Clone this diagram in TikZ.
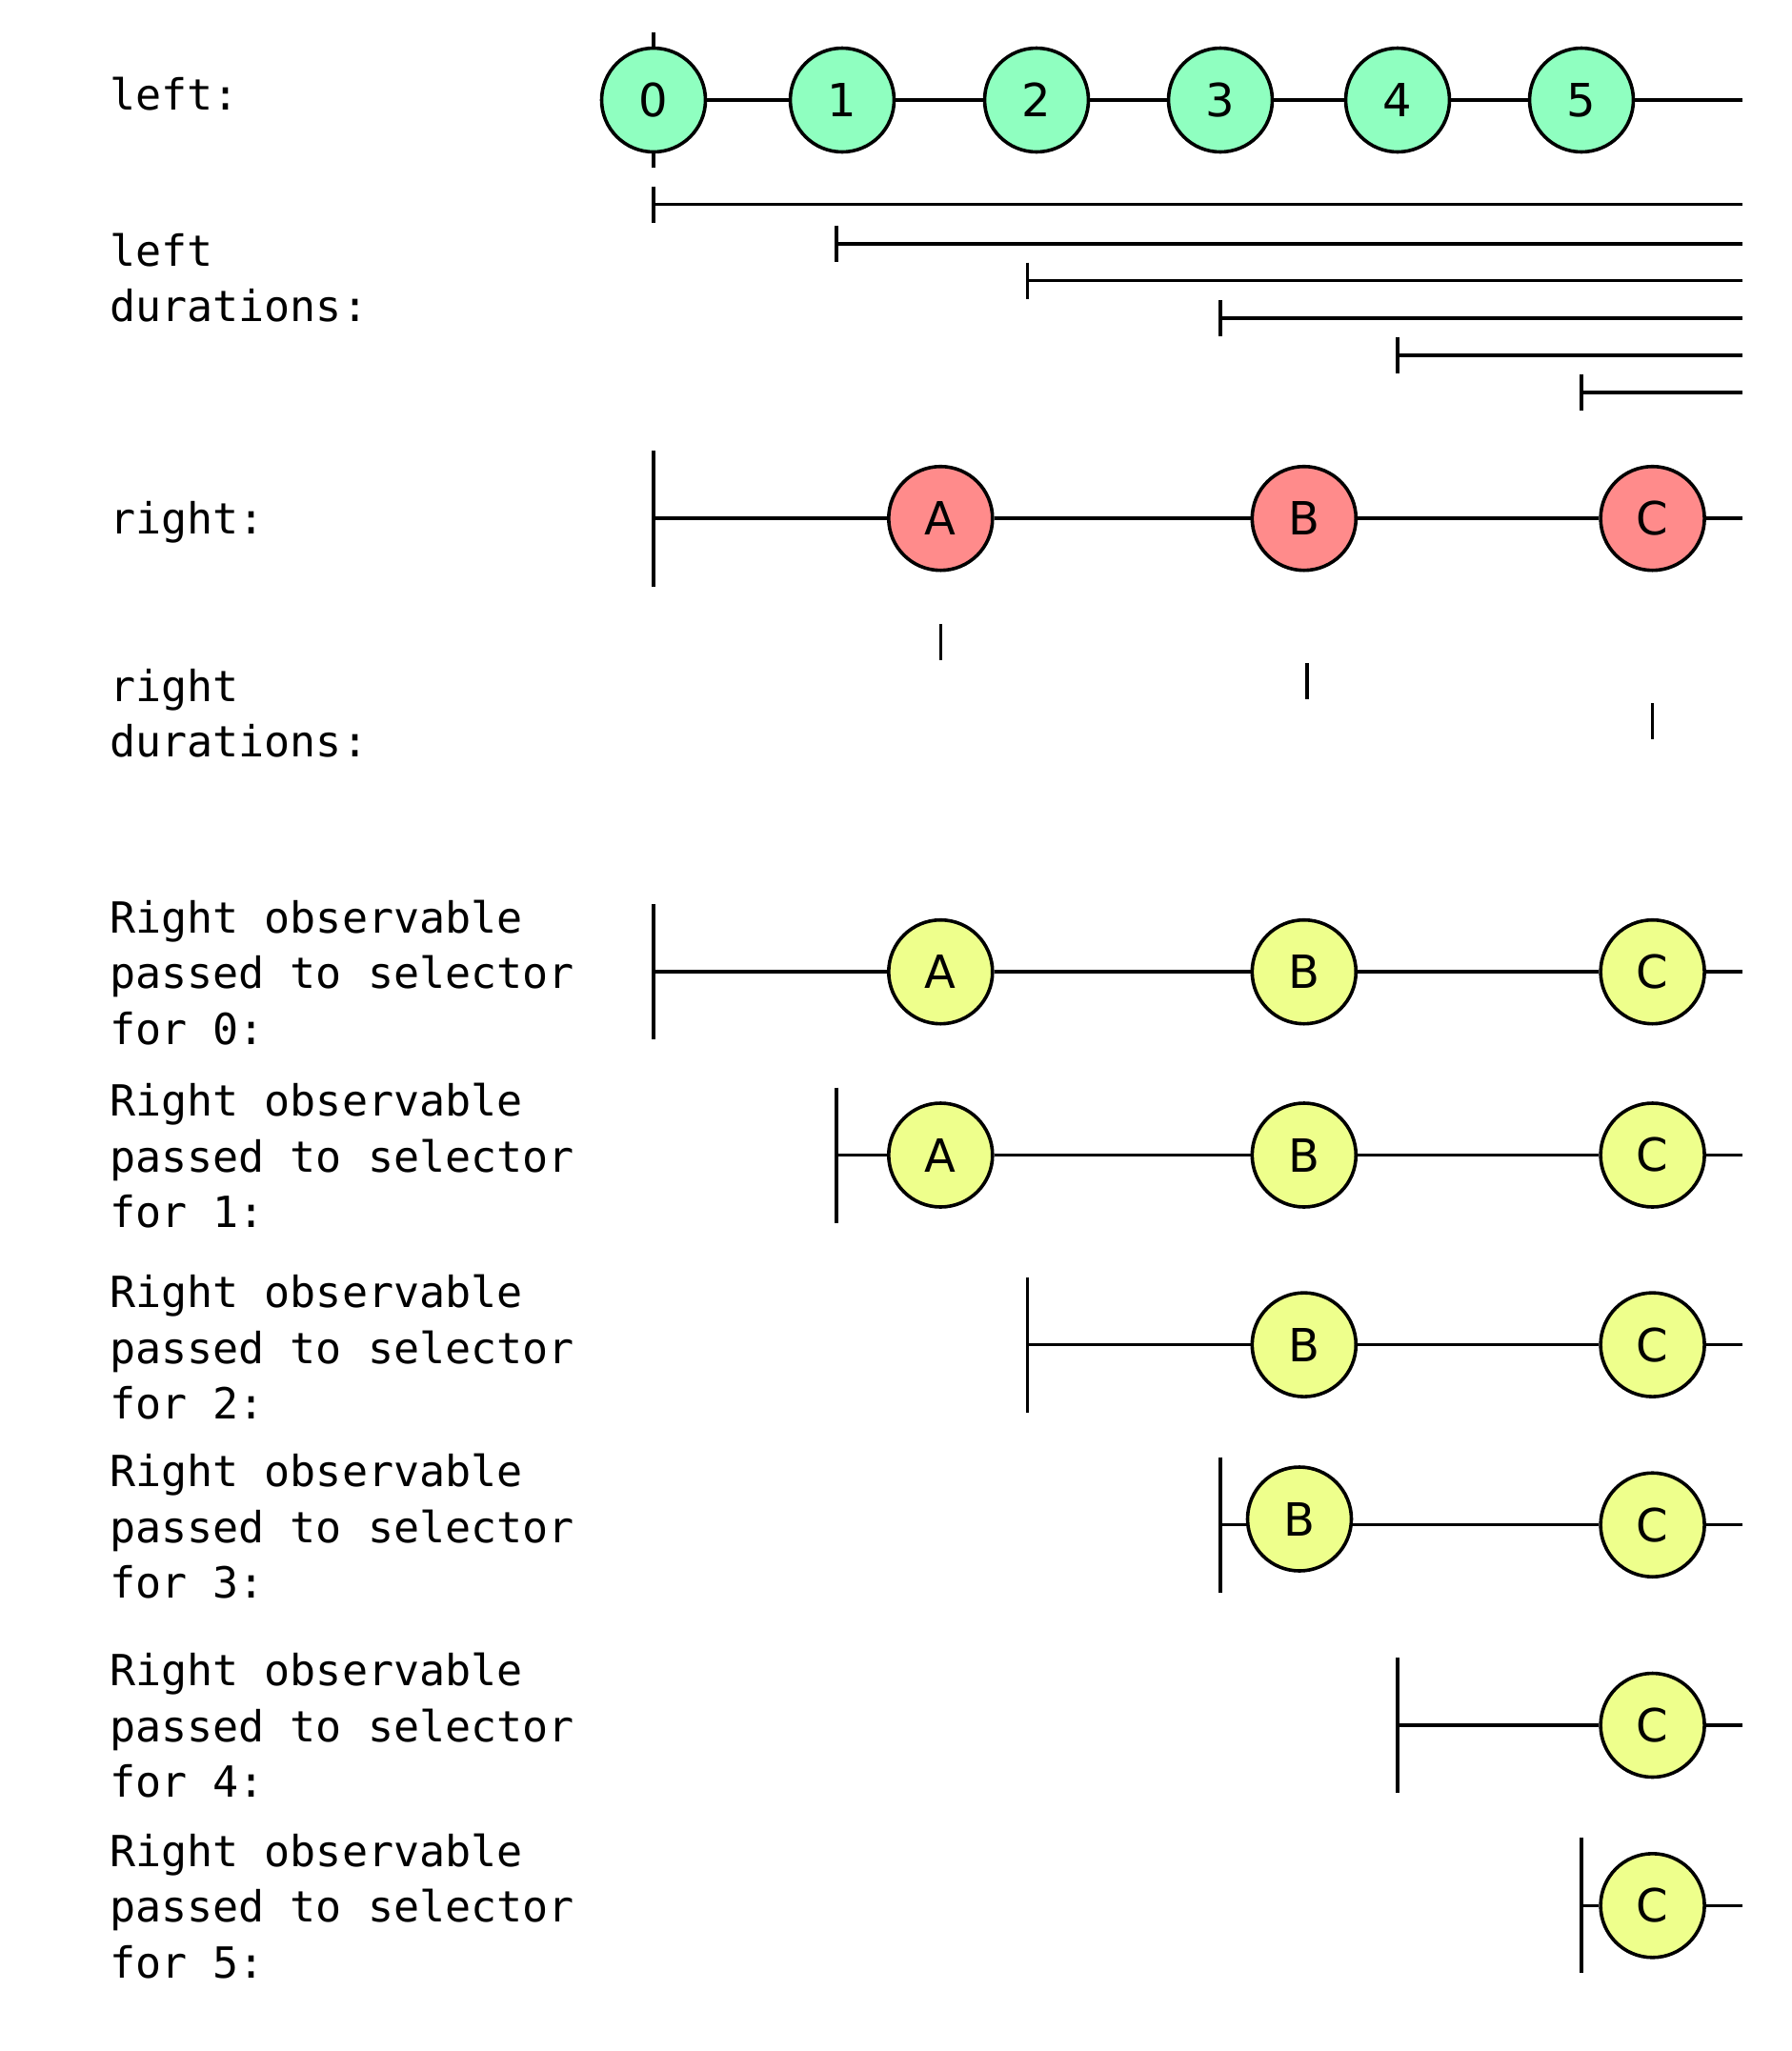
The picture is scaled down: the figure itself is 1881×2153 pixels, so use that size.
\documentclass[tikz,border=0pt]{standalone}
\usepackage{fontspec}
\setmainfont{DejaVu Sans}
\newfontfamily\monofont{DejaVu Sans Mono}
\definecolor{lgreen}{RGB}{143,255,192}
\definecolor{lred}{RGB}{255,139,139}
\definecolor{lyellow}{RGB}{238,255,140}
\begin{document}
\begin{tikzpicture}[x=1pt,y=-1pt,
  lbl/.style={anchor=north west, inner sep=0pt, align=left, font=\monofont\fontsize{45}{58.5}\selectfont},
  marble/.style={circle, draw=black, line width=3.6pt, minimum size=109pt, inner sep=0pt, font=\fontsize{48}{52}\selectfont},
  gm/.style={marble, fill=lgreen},
  rm/.style={marble, fill=lred},
  ym/.style={marble, fill=lyellow},
  tl/.style={draw=black, line width=3.5pt}]
\useasboundingbox[fill=white] (0,0) rectangle (1881,2153);

% labels
\node[lbl] (Lleft) at (115,80.8) {left:};
\node[lbl] (Lleftd) at (115,244.8) {left\\durations:};
\node[lbl] (Lright) at (115,525.8) {right:};
\node[lbl] (Lrightd) at (115,701.8) {right\\durations:};
\node[lbl] (Lg0) at (115,944.8) {Right observable\\passed to selector\\for 0:};
\node[lbl] (Lg1) at (115,1137.2) {Right observable\\passed to selector\\for 1:};
\node[lbl] (Lg2) at (115,1338.1) {Right observable\\passed to selector\\for 2:};
\node[lbl] (Lg3) at (115,1526.3) {Right observable\\passed to selector\\for 3:};
\node[lbl] (Lg4) at (115,1735.2) {Right observable\\passed to selector\\for 4:};
\node[lbl] (Lg5) at (115,1924.4) {Right observable\\passed to selector\\for 5:};

% left row
\draw[tl] (686,34) -- (686,176);
\node[gm] (l0) at (686,105) {0};
\node[gm] (l1) at (884,105) {1};
\node[gm] (l2) at (1088,105) {2};
\node[gm] (l3) at (1281,105) {3};
\node[gm] (l4) at (1467,105) {4};
\node[gm] (l5) at (1660,105) {5};
\coordinate (le) at (1829,105);
\draw[tl] (l0) -- (l1);
\draw[tl] (l1) -- (l2);
\draw[tl] (l2) -- (l3);
\draw[tl] (l3) -- (l4);
\draw[tl] (l4) -- (l5);
\draw[tl] (l5) -- (le);

% left durations
\foreach \x/\y in {686/214.7, 878/255.8, 1078.5/294.6, 1281/333.9, 1467/373.2, 1660/412}{
  \draw[tl] (\x,\y-19) -- (\x,\y+19) (\x,\y) -- (1829,\y);
}

% right row
\coordinate (rs) at (686,544.2);
\coordinate (re) at (1829,544.2);
\draw[tl] (686,473) -- (686,616);
\node[rm] (rA) at (987.3,544.2) {A};
\node[rm] (rB) at (1368.8,544.2) {B};
\node[rm] (rC) at (1734.6,544.2) {C};
\draw[tl] (rs) -- (rA);
\draw[tl] (rA) -- (rB);
\draw[tl] (rB) -- (rC);
\draw[tl] (rC) -- (re);

% right durations
\draw[tl] (987.3,655) -- (987.3,693);
\draw[tl] (1372,696) -- (1372,734);
\draw[tl] (1734.6,738) -- (1734.6,776);

% group 0
\coordinate (g0s) at (686,1020.2);
\coordinate (g0e) at (1829,1020.2);
\draw[tl] (686,949.2) -- (686,1091.2);
\node[ym] (g0A) at (987.3,1020.2) {A};
\node[ym] (g0B) at (1368.8,1020.2) {B};
\node[ym] (g0C) at (1734.6,1020.2) {C};
\draw[tl] (g0s) -- (g0A);
\draw[tl] (g0A) -- (g0B);
\draw[tl] (g0B) -- (g0C);
\draw[tl] (g0C) -- (g0e);

% group 1
\coordinate (g1s) at (878,1212.5);
\coordinate (g1e) at (1829,1212.5);
\draw[tl] (878,1141.5) -- (878,1283.5);
\node[ym] (g1A) at (987.3,1212.5) {A};
\node[ym] (g1B) at (1368.8,1212.5) {B};
\node[ym] (g1C) at (1734.6,1212.5) {C};
\draw[tl] (g1s) -- (g1A);
\draw[tl] (g1A) -- (g1B);
\draw[tl] (g1B) -- (g1C);
\draw[tl] (g1C) -- (g1e);

% group 2
\coordinate (g2s) at (1078.5,1411.6);
\coordinate (g2e) at (1829,1411.6);
\draw[tl] (1078.5,1340.6) -- (1078.5,1482.6);
\node[ym] (g2B) at (1368.8,1411.6) {B};
\node[ym] (g2C) at (1734.6,1411.6) {C};
\draw[tl] (g2s) -- (g2B);
\draw[tl] (g2B) -- (g2C);
\draw[tl] (g2C) -- (g2e);

% group 3
\coordinate (g3s) at (1281,1600.7);
\coordinate (g3e) at (1829,1600.7);
\draw[tl] (1281,1529.7) -- (1281,1671.7);
\node[ym] (g3B) at (1364,1594.5) {B};
\node[ym] (g3C) at (1734.6,1600.7) {C};
\draw[tl] (g3s) -- (g3s -| g3B.west);
\draw[tl] (g3B.east |- g3s) -- (g3C);
\draw[tl] (g3C) -- (g3e);

% group 4
\coordinate (g4s) at (1467,1811);
\coordinate (g4e) at (1829,1811);
\draw[tl] (1467,1740) -- (1467,1882);
\node[ym] (g4C) at (1734.6,1811) {C};
\draw[tl] (g4s) -- (g4C);
\draw[tl] (g4C) -- (g4e);

% group 5
\coordinate (g5s) at (1660,2000.3);
\coordinate (g5e) at (1829,2000.3);
\draw[tl] (1660,1929.3) -- (1660,2071.3);
\node[ym] (g5C) at (1734.6,2000.3) {C};
\draw[tl] (g5s) -- (g5C);
\draw[tl] (g5C) -- (g5e);
\end{tikzpicture}
\end{document}
